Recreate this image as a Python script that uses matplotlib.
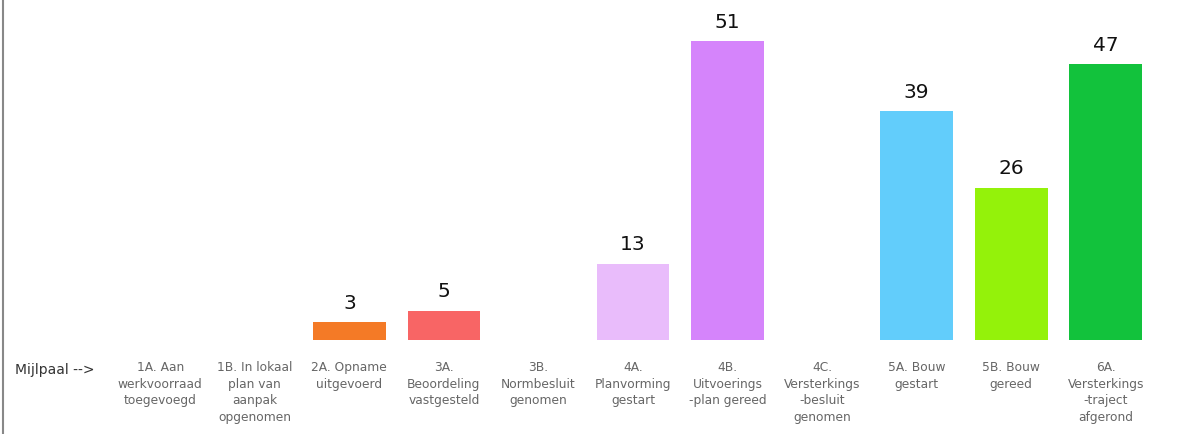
import matplotlib.pyplot as plt
import numpy as np

labels = [
    "1A. Aan\nwerkvoorraad\ntoegevoegd",
    "1B. In lokaal\nplan van\naanpak\nopgenomen",
    "2A. Opname\nuitgevoerd",
    "3A.\nBeoordeling\nvastgesteld",
    "3B.\nNormbesluit\ngenomen",
    "4A.\nPlanvorming\ngestart",
    "4B.\nUitvoerings\n-plan gereed",
    "4C.\nVersterkings\n-besluit\ngenomen",
    "5A. Bouw\ngestart",
    "5B. Bouw\ngereed",
    "6A.\nVersterkings\n-traject\nafgerond",
]
values = [0, 0, 3, 5, 0, 13, 51, 0, 39, 26, 47]
colors = ["#ffffff", "#ffffff", "#f47a26", "#f86565", "#ffffff", "#e9bcfb",
          "#d584fb", "#ffffff", "#62cdfb", "#94f20a", "#12c23c"]

fig = plt.figure(figsize=(11.77, 4.34), dpi=100)
ax = fig.add_axes([113 / 1177, 94 / 434, 1040 / 1177, 1 - 94 / 434])

x = np.arange(len(values))
ax.bar(x, values, width=0.77, color=colors)
for xi, v in zip(x, values):
    if v > 0:
        ax.text(xi, v + 1.6, str(v), ha="center", va="bottom", fontsize=14.5, color="#111111")

ax.set_xlim(-0.5, len(values) - 0.5)
ax.set_ylim(0, 58)
ax.set_yticks([])
ax.set_xticks(x)
ax.set_xticklabels(labels, fontsize=8.8, color="#666666", linespacing=1.38)
ax.tick_params(axis="x", length=0, pad=15)
for s in ax.spines.values():
    s.set_visible(False)

fig.text(15 / 1177, 1 - 370 / 434, "Mijlpaal -->", fontsize=10, color="#333333", va="center")
fig.add_artist(plt.Line2D([3 / 1177, 3 / 1177], [0, 1], color="#888888", lw=1.5))

fig.savefig("out.png", dpi=100)
